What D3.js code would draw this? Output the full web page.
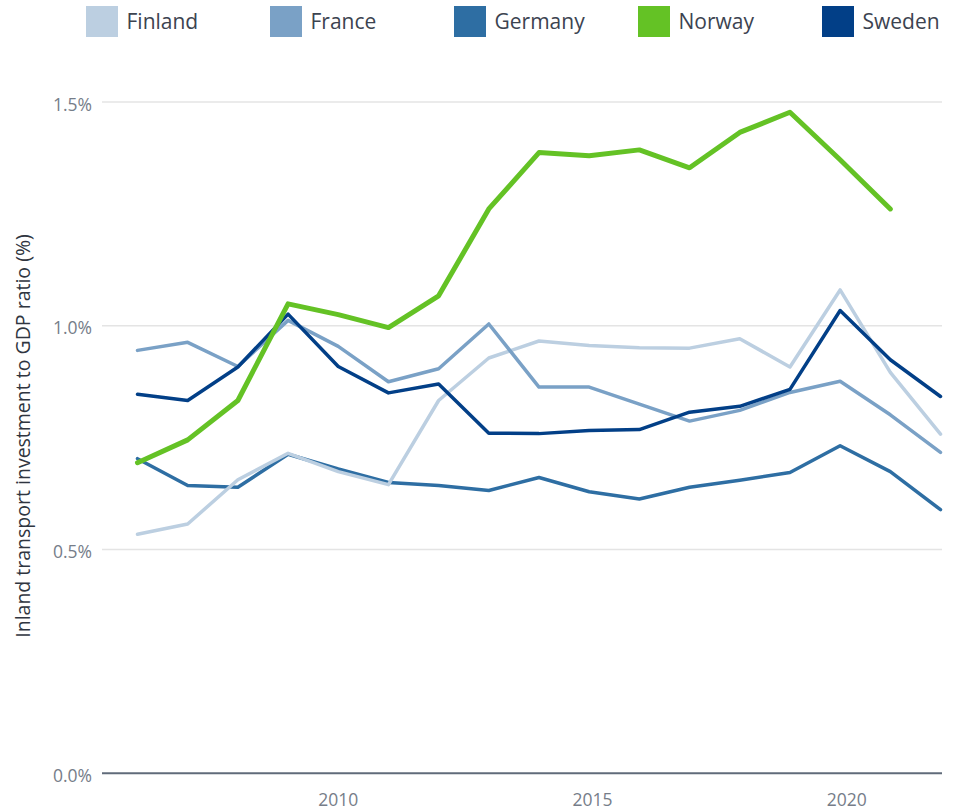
<!DOCTYPE html>
<html><head><meta charset="utf-8">
<script src="https://cdn.jsdelivr.net/npm/d3@7/dist/d3.min.js"></script>
<style>
body{margin:0;background:#fff}
svg{display:block}
text{font-family:"Open Sans",sans-serif}
</style>
</head><body>
<svg id="chart" width="958" height="809"></svg>
<script>
const years = [2006,2007,2008,2009,2010,2011,2012,2013,2014,2015,2016,2017,2018,2019,2020,2021,2022];
const countries = ["Finland","France","Germany","Norway","Sweden"];
const colors = ["#bccfe1","#7aa1c6","#2e6ea3","#64c225","#023f87"];
const finland = [0.534,0.557,0.656,0.715,0.674,0.645,0.833,0.928,0.966,0.956,0.951,0.950,0.971,0.908,1.080,0.896,0.758];
const france  = [0.945,0.963,0.909,1.012,0.954,0.875,0.904,1.004,0.863,0.863,0.825,0.787,0.811,0.851,0.876,0.801,0.717];
const germany = [0.703,0.643,0.639,0.713,0.680,0.650,0.643,0.632,0.661,0.629,0.613,0.639,0.655,0.672,0.732,0.674,0.589];
const norway  = [0.694,0.745,0.833,1.049,1.025,0.996,1.067,1.261,1.387,1.380,1.393,1.353,1.432,1.477,1.371,1.261,null];
const sweden  = [0.847,0.833,0.908,1.026,0.909,0.850,0.870,0.760,0.759,0.766,0.768,0.807,0.820,0.858,1.034,0.924,0.842];
const yTicks = [0, 0.5, 1.0, 1.5];
const xTicks = [2010, 2015, 2020];
const yTitle = "Inland transport investment to GDP ratio (%)";

const seriesValues = [finland, france, germany, norway, sweden];
const series = countries.map((name, i) => ({name, color: colors[i], values: seriesValues[i]}));
const drawOrder = ["Germany","Finland","France","Sweden","Norway"];

const svg = d3.select("#chart");
const plotLeft = 102, plotRight = 942;
const x = d3.scaleLinear().domain([2006, 2022]).range([137.5, 940.5]);
const xLabel = d3.scaleLinear().domain([2010, 2020]).range([338.3, 846.7]);
const y = d3.scaleLinear().domain([0, 1.5]).range([773.3, 102]);

// gridlines
svg.append("g").selectAll("line").data(yTicks.filter(t => t > 0)).join("line")
  .attr("x1", plotLeft).attr("x2", plotRight)
  .attr("y1", d => y(d)).attr("y2", d => y(d))
  .attr("stroke", "#e4e4e4").attr("stroke-width", 1.6);

// baseline
svg.append("line").attr("x1", plotLeft).attr("x2", plotRight)
  .attr("y1", y(0)).attr("y2", y(0)).attr("stroke", "#606b7a").attr("stroke-width", 2);

// y tick labels
svg.append("g").selectAll("text").data(yTicks).join("text")
  .attr("x", 92).attr("y", d => y(d) + 8.5)
  .attr("text-anchor", "end").attr("font-size", 17.5).attr("fill", "#767d89")
  .text(d => d3.format(".1f")(d) + "%");

// x tick labels
svg.append("g").selectAll("text").data(xTicks).join("text")
  .attr("x", d => xLabel(d)).attr("y", 805.5)
  .attr("text-anchor", "middle").attr("font-size", 17.5).attr("fill", "#767d89")
  .text(d => d);

// y title
svg.append("text")
  .attr("transform", `translate(30,436) rotate(-90)`)
  .attr("text-anchor", "middle").attr("font-size", 19.5).attr("fill", "#2f3540")
  .text(yTitle);

// lines
const line = d3.line()
  .defined(d => d.v != null)
  .x(d => x(d.year)).y(d => y(d.v));
svg.append("g").selectAll("path")
  .data(drawOrder.map(n => series.find(s => s.name === n)))
  .join("path")
  .attr("fill", "none")
  .attr("stroke", d => d.color)
  .attr("stroke-width", d => d.name === "Norway" ? 5 : 3.5)
  .attr("stroke-linejoin", "round").attr("stroke-linecap", "round")
  .attr("d", d => line(years.map((yr, i) => ({year: yr, v: d.values[i]}))));

// legend
const lx = d3.scaleLinear().domain([0, 4]).range([86, 822]);
const leg = svg.append("g").selectAll("g").data(series).join("g")
  .attr("transform", (d, i) => `translate(${lx(i)},0)`);
leg.append("rect").attr("x", 0).attr("y", 6).attr("width", 32).attr("height", 31)
  .attr("fill", d => d.color);
leg.append("text").attr("x", 40.5).attr("y", 29.3).attr("font-size", 21)
  .attr("fill", "#3c4350").text(d => d.name);
</script>
</body></html>
